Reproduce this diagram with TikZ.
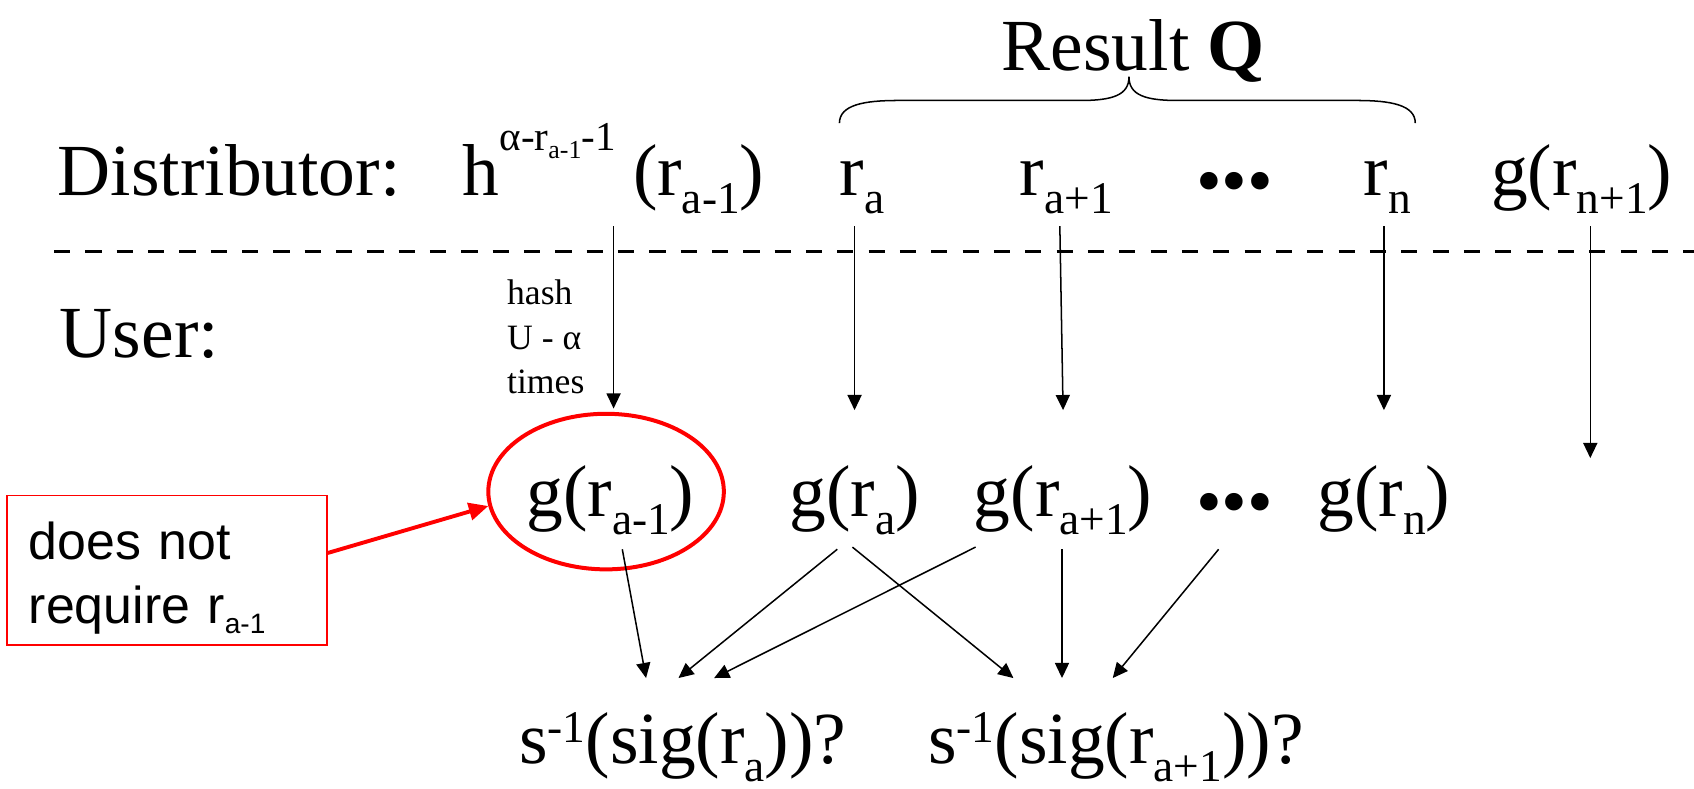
\documentclass[tikz,border=0pt]{standalone}
\usepackage{fontspec}
\setmainfont{Liberation Serif}
\newfontfamily\notefont{Liberation Sans}
\usepackage{graphicx}
\usetikzlibrary{arrows.meta,shapes.geometric,calc}
\newcommand\mainsz{\fontsize{34}{40}\selectfont}
\newcommand\subsz{\fontsize{21}{24}\selectfont}
\newcommand\sbs[1]{\raisebox{-8.3pt}{\subsz #1}}
\newcommand\sps[1]{\raisebox{10pt}{\subsz #1}}
\newcommand\threedots{\raisebox{-4.5pt}{•••}}
\begin{document}
\begin{tikzpicture}[x=0.5pt,y=-0.5pt,
  txt/.style={font=\mainsz, inner sep=0pt, anchor=base, text height=25pt, text depth=9pt},
  arr/.style={-{Triangle[length=7pt,width=6.5pt]}, line width=0.7pt},
  redarr/.style={-{Triangle[length=9pt,width=8pt]}, line width=1.8pt, draw=red},
  sep/.style={line width=1.6pt, dash pattern=on 7.5pt off 7pt},
  brace/.style={line width=0.7pt},
  hashlbl/.style={font=\fontsize{16.5}{20.5}\selectfont, inner sep=0pt, align=left, anchor=north west},
  note/.style={draw=red, line width=0.7pt, font=\notefont\fontsize{24}{29.5}\selectfont, inner xsep=0pt, inner ysep=5pt, text width=128pt, minimum width=148pt, align=left, anchor=north west},
  ring/.style={ellipse, draw=red, line width=1.85pt, minimum width=109pt, minimum height=72pt, inner sep=0pt}
]
\fill[white] (0,0) rectangle (1568,730);
\useasboundingbox (0,0) rectangle (1568,730);

% title and brace
\node[txt] (res) at (1049,65) {Result \textbf{Q}};
\draw[brace] (777,114) .. controls (777,97) and (800,93) .. (831,93) -- (1000,93)
  .. controls (1030,93) and (1045,88) .. (1045,71)
  .. controls (1045,88) and (1060,93) .. (1090,93) -- (1256,93)
  .. controls (1287,93) and (1310,97) .. (1310,114);

% row 1: distributor
\node[txt, anchor=base west] (dist) at (53,181) {Distributor:};
\node[txt, anchor=base west] (hgrp) at (428,181) {h\raisebox{21pt}{\fontsize{19}{22}\selectfont α-r\raisebox{-3.7pt}{\fontsize{12}{14}\selectfont a-1}-1}\kern8pt(r\sbs{a-1})};
\node[txt] (ra) at (798,181) {r\sbs{a}};
\node[txt] (ra1) at (987,181) {r\sbs{a+1}};
\node[txt] (dots1) at (1143,181) {\threedots};
\node[txt] (rn) at (1284,181) {r\sbs{n}};
\node[txt] (gn1) at (1464,181) {g(r\sbs{n+1})};

% separator
\coordinate (sepL) at (50,233);
\coordinate (sepR) at (1568,233);
\draw[sep] (sepL) -- (sepR);

% row 2: user
\node[txt, anchor=base west] (user) at (55,331) {User:};
\node[hashlbl] (hash) at (469,259) {hash\\U - α\\times};

% g row
\node[ring] (ell) at (561,455) {};
\node[txt] (gam1) at (565,478) {g(r\sbs{a-1})};
\node[txt] (ga) at (791,478) {g(r\sbs{a})};
\node[txt] (ga1) at (984,478) {g(r\sbs{a+1})};
\node[txt] (dots2) at (1143,478) {\threedots};
\node[txt] (gn) at (1281,478) {g(r\sbs{n})};
\coordinate (endn1) at (1472,424);

% note box
\node[note] (nt) at (6,458) {\rule{0pt}{24.5pt}does not\\require r\raisebox{-5pt}{\fontsize{13}{15}\selectfont a-1}};

% bottom
\node[txt] (s1) at (632,707) {s\sps{-1}(sig(r\sbs{a}))?};
\node[txt] (s2) at (1033,707) {s\sps{-1}(sig(r\sbs{a+1}))?};

% vertical arrows
\draw[arr] ($(hgrp.south)+(0,10)$) -- ($(hgrp.south |- ell.north)+(0,-3)$);
\draw[arr] ($(ra.south -| ga.north)+(0,10)$) -- ($(ga.north)+(0,-48)$);
\draw[arr] ($(ra1.south)+(-6,10)$) -- ($(ga1.north)+(0,-48)$);
\draw[arr] ($(rn.south)+(-3,10)$) -- ($(gn.north)+(0,-48)$);
\draw[arr] ($(gn1.south)+(8,10)$) -- (endn1);

% lower arrows
\draw[arr] ($(gam1.south)+(11,12)$) -- ($(s1.north)+(-34,-29)$);
\draw[arr] ($(ga.south)+(-16,12)$) -- ($(s1.north)+(-4,-29)$);
\draw[arr] ($(ga1.south)+(-81,10)$) -- ($(s1.north)+(29,-29)$);
\draw[arr] ($(ga.south)+(-2,10)$) -- ($(s2.north)+(-95,-29)$);
\draw[arr] ($(ga1.south)+(-1,12)$) -- ($(s2.north)+(-50,-29)$);
\draw[arr] ($(gn.south)+(-153,12)$) -- ($(s2.north)+(-3,-29)$);

% red pointer
\draw[redarr] ($(nt.east)+(0,-16)$) -- (ell.187);
\end{tikzpicture}
\end{document}
